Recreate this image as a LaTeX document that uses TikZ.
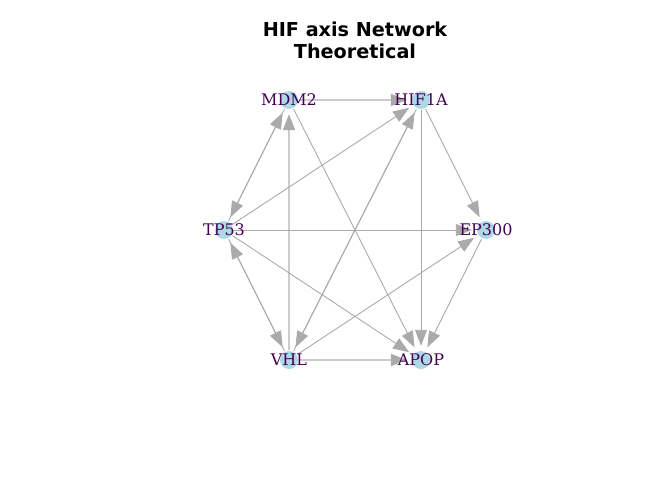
\documentclass[tikz,border=0pt]{standalone}
\usepackage{fontspec}
\setmainfont{DejaVu Serif}
\newfontfamily\titlefont{DejaVu Sans}
\usetikzlibrary{arrows.meta}
\definecolor{nodeblue}{HTML}{ADD8E6}
\definecolor{labpurple}{HTML}{440154}
\definecolor{edgegray}{HTML}{AAAAAA}
\definecolor{edgelight}{HTML}{CCCCCC}
\begin{document}
\begin{tikzpicture}[x=1bp,y=-1bp,
  vtx/.style={circle,fill=nodeblue,draw=none,minimum size=18bp,inner sep=0pt},
  lab/.style={text=labpurple,font=\fontsize{16bp}{18bp}\selectfont,inner sep=0pt},
  edg/.style={draw=edgegray,line width=0.9bp,-{Triangle[length=16bp,width=12bp]},shorten >=5bp,shorten <=1bp},
  edgthick/.style={edg,draw=edgelight,line width=2.2bp,-{Triangle[length=16bp,width=12bp,fill=edgegray,color=edgegray]}},
]
\useasboundingbox (0,0) rectangle (672,480);
\node[font=\titlefont\bfseries\fontsize{19.2bp}{22bp}\selectfont,align=center,inner sep=0pt] (title) at (355,40) {HIF axis Network\\Theoretical};
\node[vtx] (MDM2) at (289,100) {};
\node[vtx] (HIF1A) at (421,100) {};
\node[vtx] (TP53) at (224,230) {};
\node[vtx] (EP300) at (486,230) {};
\node[vtx] (VHL) at (289,360) {};
\node[vtx] (APOP) at (421,360) {};
% edges
\draw[edgthick] (MDM2) -- (HIF1A);
\draw[edgthick] (VHL) -- (MDM2);
\draw[edgthick] (VHL) -- (APOP);
\draw[edg] (MDM2) -- (TP53);
\draw[edg] (TP53) -- (MDM2);
\draw[edg] (MDM2) -- (APOP);
\draw[edg] (TP53) -- (HIF1A);
\draw[edg] (VHL) -- (HIF1A);
\draw[edg] (HIF1A) -- (VHL);
\draw[edg] (HIF1A) -- (EP300);
\draw[edg] (HIF1A) -- (APOP);
\draw[edg] (TP53) -- (EP300);
\draw[edg] (TP53) -- (VHL);
\draw[edg] (VHL) -- (TP53);
\draw[edg] (TP53) -- (APOP);
\draw[edg] (VHL) -- (EP300);
\draw[edg] (EP300) -- (APOP);
% labels
\node[lab] (lMDM2) at (MDM2) {MDM2};
\node[lab] (lHIF1A) at (HIF1A) {HIF1A};
\node[lab] (lTP53) at (TP53) {TP53};
\node[lab] (lEP300) at (EP300) {EP300};
\node[lab] (lVHL) at (VHL) {VHL};
\node[lab] (lAPOP) at (APOP) {APOP};
\end{tikzpicture}
\end{document}
